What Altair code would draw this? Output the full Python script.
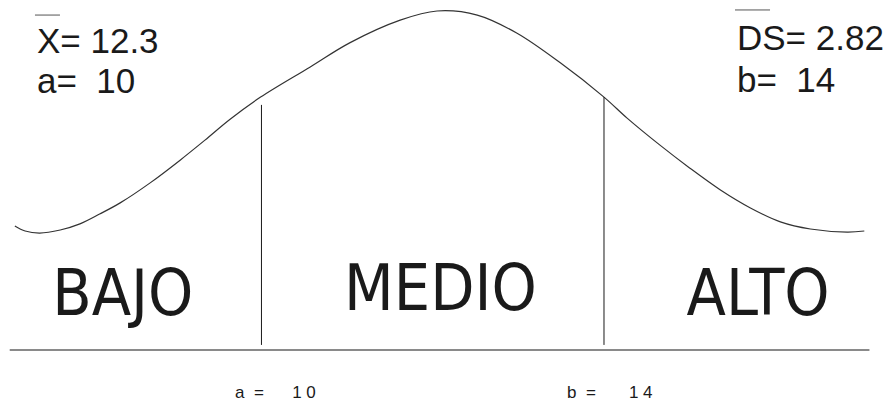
import altair as alt
import pandas as pd

# ---- data (x in score units: a=10, b=14; y in relative height, baseline = 0, curve peak = 100)
curve_x = [7.12, 7.24, 7.41, 7.65, 7.88, 8.11, 8.35, 8.70, 9.05, 9.34, 9.63, 9.99,
           10.57, 11.03, 11.62, 12.05, 12.52, 12.98, 13.49, 14.00, 14.27, 14.65,
           15.00, 15.36, 15.71, 16.06, 16.41, 16.84, 17.04]
curve_y = [36.6, 35.1, 34.5, 35.4, 37.2, 40.1, 43.4, 49.3, 56.0, 61.9, 68.0, 74.6,
           83.5, 90.6, 97.3, 100.0, 98.8, 93.5, 84.7, 74.6, 68.4, 60.5,
           53.7, 47.2, 41.9, 37.8, 35.7, 34.8, 35.1]

cut_names = ["a", "b"]
cut_values = [10, 14]
cut_tops = [72.3, 74.6]
cut_bottom = 1.5

base_x = [7.06, 17.10]
base_y = 0

zone_labels = ["BAJO", "MEDIO", "ALTO"]
zone_x = [8.38, 12.09, 15.80]
zone_y = [10.3, 11.8, 10.3]

stat_labels = ["X= 12.3", "a=\u00a0\u00a010", "DS= 2.82", "b=\u00a0\u00a014"]
stat_x = [7.378, 7.378, 15.553, 15.553]
stat_y = [87.6, 75.8, 88.5, 76.1]

bar_x1 = [7.355, 15.530]
bar_x2 = [7.647, 15.939]
bar_y = [98.8, 100.3]

cut_labels = ["a\u00a0\u00a0=\u00a0\u00a0\u00a0\u00a0\u00a0\u00a01\u00a00",
              "b\u00a0\u00a0=\u00a0\u00a0\u00a0\u00a0\u00a0\u00a0\u00a01\u00a04"]
cut_label_x = [9.691, 13.568]
cut_label_y = [-14.2, -14.2]

X_DOMAIN = [7.04, 17.27]
Y_DOMAIN = [-15.63, 100.88]

xs = alt.Scale(domain=X_DOMAIN, nice=False, zero=False)
ys = alt.Scale(domain=Y_DOMAIN, nice=False, zero=False)
noax = None

curve_df = pd.DataFrame({"x": curve_x, "y": curve_y, "o": list(range(len(curve_x)))})
cut_df = pd.DataFrame({"name": cut_names, "x": cut_values, "top": cut_tops,
                       "bottom": [cut_bottom] * len(cut_values)})
base_df = pd.DataFrame({"x": [base_x[0]], "x2": [base_x[1]], "y": [base_y]})
zone_df = pd.DataFrame({"label": zone_labels, "x": zone_x, "y": zone_y})
stat_df = pd.DataFrame({"label": stat_labels, "x": stat_x, "y": stat_y})
bar_df = pd.DataFrame({"x": bar_x1, "x2": bar_x2, "y": bar_y})
cutlab_df = pd.DataFrame({"label": cut_labels, "x": cut_label_x, "y": cut_label_y})

X = lambda f="x": alt.X(f"{f}:Q", scale=xs, axis=noax)
Y = lambda f="y": alt.Y(f"{f}:Q", scale=ys, axis=noax)

curve = alt.Chart(curve_df).mark_line(
    interpolate="catmull-rom", color="#333333", strokeWidth=1.2
).encode(x=X(), y=Y(), order="o:Q")

cuts = alt.Chart(cut_df).mark_rule(color="#1a1a1a", strokeWidth=1).encode(
    x=X(), y=Y("top"), y2="bottom:Q")

base = alt.Chart(base_df).mark_rule(color="#8a8a8a", strokeWidth=2).encode(
    x=X(), x2="x2:Q", y=Y())

zones = alt.Chart(zone_df).mark_text(
    font="Liberation Sans Narrow, Arial Narrow, DejaVu Sans Condensed, sans-serif",
    fontSize=64, align="center", baseline="alphabetic", color="#1a1a1a"
).encode(x=X(), y=Y(), text="label:N")

stats = alt.Chart(stat_df).mark_text(
    font="Liberation Sans, Arial, sans-serif", fontSize=35, align="left",
    baseline="alphabetic", color="#1a1a1a"
).encode(x=X(), y=Y(), text="label:N")

bars = alt.Chart(bar_df).mark_rule(color="#555555", strokeWidth=1).encode(
    x=X(), x2="x2:Q", y=Y())

cutlabs = alt.Chart(cutlab_df).mark_text(
    font="Liberation Sans, Arial, sans-serif", fontSize=17, align="left",
    baseline="alphabetic", color="#1a1a1a"
).encode(x=X(), y=Y(), text="label:N")

chart = alt.layer(curve, cuts, base, zones, stats, bars, cutlabs).properties(
    width=876, height=395, padding=0, autosize=alt.AutoSizeParams(type="none")
).configure_view(stroke=None)

chart.save("out.html", embed_options={"renderer": "svg", "actions": False})
